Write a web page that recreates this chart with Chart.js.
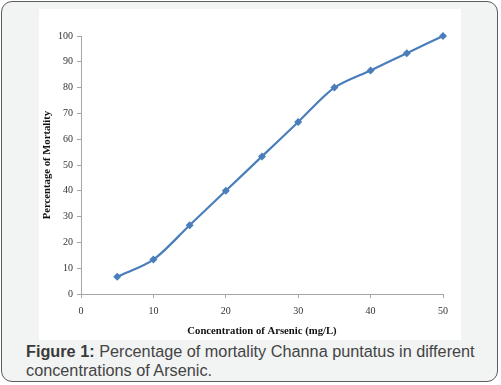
<!DOCTYPE html>
<html>
<head>
<meta charset="utf-8">
<script src="https://cdn.jsdelivr.net/npm/chart.js@4"></script>
<style>
  html, body { margin: 0; padding: 0; width: 501px; height: 385px; overflow: hidden; background: #ffffff; }
  #frame { position: absolute; left: 1px; top: 1px; width: 495px; height: 379px; border: 1.5px solid #5c5c5c; border-radius: 11px; background: #f2f3f3; }
  #plot { position: absolute; left: 39px; top: 9px; width: 422px; height: 331px; background: #ffffff; }
  #caption { position: absolute; left: 26px; top: 342px; width: 470px; font-family: "Liberation Sans", Arial, sans-serif; font-size: 16.25px; line-height: 19px; color: #444444; }
  #caption b { color: #3a3a3a; }
</style>
</head>
<body>
<div id="frame"></div>
<div id="plot"><canvas id="c" width="422" height="331"></canvas></div>
<div id="caption"><b>Figure 1:</b> Percentage of mortality Channa puntatus in different concentrations of Arsenic.</div>
<script>
const concentrations = [5, 10, 15, 20, 25, 30, 35, 40, 45, 50];
const mortality = [6.67, 13.33, 26.67, 40, 53.33, 66.67, 80, 86.67, 93.33, 100];
const xTitle = "Concentration of Arsenic (mg/L)";
const yTitle = "Percentage of Mortality";

const lineColor = "#4a7ebb";
const axisColor = "#a6a6a6";
const tickFont = { family: "'Liberation Serif', 'DejaVu Serif', serif", size: 10 };
const titleFont = { family: "'Liberation Serif', 'DejaVu Serif', serif", size: 10.7, weight: "bold" };

new Chart(document.getElementById("c"), {
  type: "line",
  data: {
    datasets: [{
      data: concentrations.map((x, i) => ({ x: x, y: mortality[i] })),
      borderColor: lineColor,
      backgroundColor: lineColor,
      borderWidth: 2.2,
      tension: 0.3,
      pointStyle: "rectRot",
      pointRadius: 4,
      pointBorderWidth: 0,
      fill: false,
      clip: false
    }]
  },
  options: {
    responsive: false,
    animation: false,
    layout: { padding: { left: 0, right: 18, top: 27, bottom: 0 } },
    plugins: { legend: { display: false }, tooltip: { enabled: false } },
    scales: {
      x: {
        type: "linear",
        min: 0, max: 50,
        afterFit: s => { s.height = 46; },
        ticks: { stepSize: 10, color: "#333333", font: tickFont, padding: 7, maxRotation: 0 },
        grid: { drawOnChartArea: false, color: axisColor, tickLength: 4 },
        border: { color: axisColor, width: 1 },
        title: { display: true, text: xTitle, color: "#111111", font: titleFont, padding: { top: 0, bottom: 2 } }
      },
      y: {
        min: 0, max: 100,
        afterFit: s => { s.width = 42; },
        ticks: { stepSize: 10, color: "#333333", font: tickFont, padding: 4 },
        grid: { drawOnChartArea: false, color: axisColor, tickLength: 4 },
        border: { color: axisColor, width: 1 },
        title: { display: true, text: yTitle, color: "#111111", font: titleFont, padding: { top: 2, bottom: 0 } }
      }
    }
  }
});
</script>
</body>
</html>
